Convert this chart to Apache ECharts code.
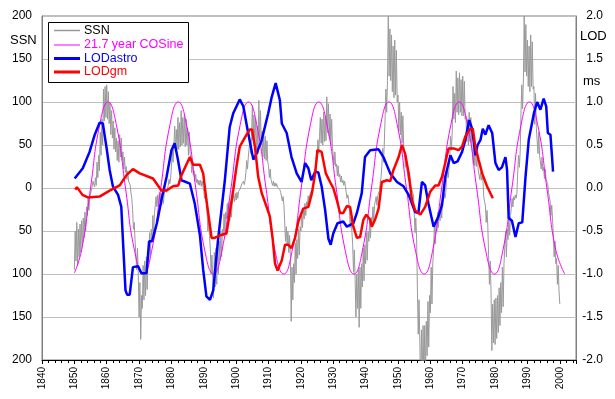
<!DOCTYPE html>
<html>
<head>
<meta charset="utf-8">
<script src="https://cdn.jsdelivr.net/npm/echarts@6/dist/echarts.min.js"></script>
<style>
  * { margin: 0; padding: 0; }
  body { background: #fff; }
</style>
</head>
<body>
<div id="main" style="width: 615px; height: 399px;"></div>
<script>
  // sunspot number, sign flipped every other cycle; four readings per year from 1850.0
  var ssnStart = 1850;
  var ssnStep = 0.25;
  var ssn = [
    -95, -50, -85, -40,   -90, -48, -80, -42,   -75, -38, -68, -35,   -58, -28, -50, -22,   -32, -12, -26, -10,
    -12, -3, 2, 8,        8, 1, 12, 3,          30, 12, 38, 20,       65, 38, 80, 50,       115, 78, 118, 82,
    120, 80, 112, 75,     100, 62, 90, 58,      78, 45, 70, 42,       58, 32, 55, 30,       62, 36, 58, 32,
    42, 22, 36, 18,       25, 10, 20, 8,        10, 3, -6, -12,       -25, -48, -40, -60,   -62, -95, -70, -100,
    -150, -110, -176, -125, -140, -90, -130, -85, -125, -80, -118, -82, -85, -52, -78, -48, -60, -32, -55, -30,
    -28, -10, -22, -8,    -20, -5, -16, -6,     -20, -6, -18, -7,     -7, -1, -5, -1,       3, 10, 5, 12,
    25, 45, 30, 48,       72, 42, 68, 45,       82, 45, 76, 48,       90, 50, 82, 52,       86, 48, 80, 50,
    70, 38, 65, 40,       36, 18, 30, 15,       20, 8, 16, 6,         10, 4, 9, 3,          9, 2, 8, 2,
    -4, -12, -6, -14,     -28, -50, -35, -55,   -70, -100, -78, -105, -128, -75, -115, -70, -112, -65, -100, -62,
    -84, -50, -80, -48,   -56, -30, -52, -28,   -36, -18, -32, -16,   -38, -20, -34, -18,   -18, -8, -16, -6,
    -14, -5, -12, -4,     -4, -1, 2, 5,         3, 8, 4, 9,           18, 32, 22, 36,       36, 56, 40, 60,
    96, 55, 85, 50,       80, 44, 72, 40,       102, 55, 90, 50,      66, 36, 62, 34,       60, 32, 55, 30,
    26, 12, 22, 10,       9, 3, 8, 2,           6, 2, 5, 1,           2, 1, -2, -5,         -6, -15, -10, -20,
    -40, -62, -45, -65,   -50, -75, -55, -80,   -155, -92, -130, -88, -110, -64, -100, -60, -82, -48, -78, -45,
    -50, -28, -46, -25,   -36, -18, -32, -16,   -20, -9, -18, -8,     -9, -3, -7, -2,       10, 22, 14, 26,
    36, 56, 40, 60,       82, 52, 80, 50,       88, 54, 84, 55,       106, 64, 98, 60,      86, 50, 80, 48,
    46, 27, 42, 25,       28, 14, 26, 13,       16, 7, 14, 6,         9, 3, 8, 2,           -5, -12, -8, -14,
    -28, -46, -34, -50,   -66, -98, -72, -105,  -150, -100, -140, -95, -162, -92, -140, -88, -115, -70, -108, -66,
    -88, -52, -84, -50,   -62, -36, -58, -34,   -42, -22, -38, -20,   -22, -10, -20, -9,    -8, -3, 6, 12,
    25, 46, 30, 50,       80, 115, 88, 125,     200, 130, 185, 125,   178, 112, 165, 105,   172, 108, 160, 100,
    108, 66, 100, 62,     88, 52, 84, 50,       42, 24, 38, 22,       20, 8, 18, 7,         3, 1, -5, -8,
    -28, -52, -35, -58,   -120, -170, -130, -180, -240, -165, -225, -160, -230, -160, -215, -155, -195, -132, -185, -125,
    -145, -92, -135, -88, -72, -40, -65, -38,   -50, -28, -46, -26,   -38, -18, -35, -16,   -14, -6, -12, -5,
    10, 20, 12, 22,       38, 60, 44, 64,       118, 80, 110, 76,     136, 88, 128, 85,     134, 88, 126, 84,
    130, 84, 124, 80,     84, 54, 80, 50,       88, 54, 82, 52,       50, 28, 46, 26,       46, 25, 42, 22,
    20, 10, 18, 9,        14, 8, -10, -16,      -20, -40, -26, -44,   -78, -112, -85, -120, -189, -135, -180, -130,
    -182, -128, -175, -125, -168, -116, -160, -110, -145, -92, -138, -88, -88, -50, -80, -48, -60, -34, -55, -32,
    -24, -12, -22, -10,   -14, -8, -12, -6,     20, 38, 24, 42,       86, 120, 92, 128,     200, 135, 190, 130,
    172, 118, 165, 112,   178, 118, 170, 115,   118, 74, 110, 70,     70, 40, 65, 38,       40, 22, 36, 20,
    24, 11, 22, 10,       10, 5, -5, -10,       -15, -32, -20, -36,   -56, -80, -62, -88,   -82, -112, -90, -120,
    -135
  ];

  // 21.7 year cosine, read at peaks, troughs, zero crossings and half-way points
  var cosine = [
    [1850.0, -99], [1852.3, -71], [1855.0, 0], [1857.7, 71], [1860.4, 100], [1863.1, 71], [1865.8, 0], [1868.5, -71],
    [1871.3, -100], [1874.0, -71], [1876.7, 0], [1879.4, 71], [1882.1, 100], [1884.8, 71], [1887.5, 0], [1890.2, -71],
    [1893.0, -100], [1895.7, -71], [1898.4, 0], [1901.1, 71], [1903.8, 100], [1906.5, 71], [1909.2, 0], [1911.9, -71],
    [1914.7, -100], [1917.4, -71], [1920.1, 0], [1922.8, 71], [1925.5, 100], [1928.2, 71], [1930.9, 0], [1933.6, -71],
    [1936.4, -100], [1939.1, -71], [1941.8, 0], [1944.5, 71], [1947.2, 100], [1949.9, 71], [1952.6, 0], [1955.3, -71],
    [1958.1, -100], [1960.8, -71], [1963.5, 0], [1966.2, 71], [1968.9, 100], [1971.6, 71], [1974.3, 0], [1977.0, -71],
    [1979.8, -100], [1982.5, -71], [1985.2, 0], [1987.9, 71], [1990.6, 100], [1993.3, 71], [1996.0, 0], [1998.7, -71],
    [2001.5, -100]
  ];

  // LOD (ms)
  var lodAstro = [
    [1850.1, 0.11], [1852.6, 0.23], [1854.7, 0.42], [1856.3, 0.62], [1857.8, 0.76], [1858.8, 0.75], [1859.9, 0.48],
    [1860.9, 0.21], [1861.9, 0.02], [1863.5, -0.08], [1864.5, -0.22], [1865.0, -0.6], [1865.8, -1.19], [1866.3, -1.24],
    [1867.1, -1.24], [1868.1, -0.92], [1869.7, -0.91], [1870.7, -0.99], [1872.3, -0.99], [1873.1, -0.62], [1874.0, -0.62],
    [1875.5, -0.41], [1876.9, -0.14], [1878.5, 0.13], [1880.0, 0.44], [1881.0, 0.52], [1882.0, 0.33], [1883.1, 0.09],
    [1885.7, 0.05], [1887.2, -0.18], [1888.8, -0.55], [1889.8, -0.95], [1890.8, -1.26], [1891.9, -1.3], [1892.9, -1.19],
    [1894.4, -0.6], [1896.5, 0.09], [1898.0, 0.71], [1899.1, 0.87], [1901.1, 1.03], [1902.2, 0.95], [1903.7, 0.64],
    [1905.3, 0.33], [1906.3, 0.4], [1907.9, 0.56], [1909.9, 0.87], [1911.0, 1.06], [1912.2, 1.22], [1913.5, 1.02],
    [1914.1, 0.75], [1915.6, 0.64], [1916.2, 0.62], [1917.1, 0.36], [1918.7, 0.17], [1920.2, 0.07], [1921.3, 0.29],
    [1922.3, 0.23], [1923.2, 0.09], [1924.4, 0.19], [1925.4, 0.18], [1926.4, 0.02], [1927.5, -0.26], [1928.5, -0.59],
    [1929.2, -0.66], [1930.0, -0.53], [1931.3, -0.41], [1933.1, -0.39], [1934.2, -0.45], [1936.2, -0.41], [1937.3, -0.29],
    [1938.8, -0.06], [1939.8, 0.36], [1941.4, 0.44], [1944.0, 0.45], [1945.5, 0.36], [1947.6, 0.17], [1949.7, 0.07],
    [1951.7, 0.02], [1953.3, -0.08], [1955.3, -0.28], [1956.3, -0.29], [1957.4, 0.07], [1958.4, 0.03], [1959.4, -0.18],
    [1961.0, -0.45], [1962.5, -0.33], [1963.6, -0.2], [1964.6, 0.13], [1966.2, 0.38], [1967.2, 0.29], [1968.4, 0.31],
    [1969.8, 0.42], [1970.8, 0.56], [1972.0, 0.79], [1972.9, 0.69], [1973.9, 0.38], [1974.6, 0.5], [1975.5, 0.56],
    [1976.2, 0.69], [1977.0, 0.62], [1978.0, 0.73], [1979.1, 0.64], [1980.1, 0.29], [1981.1, 0.21], [1982.1, 0.24],
    [1983.2, 0.36], [1983.7, 0.21], [1984.2, -0.35], [1985.2, -0.38], [1986.3, -0.57], [1987.3, -0.41], [1988.4, -0.4],
    [1989.4, 0.13], [1990.4, 0.56], [1992.0, 0.87], [1993.0, 1.0], [1994.0, 0.91], [1995.0, 1.04], [1995.8, 0.95],
    [1996.3, 0.64], [1997.1, 0.62], [1997.6, 0.36], [1997.9, 0.19]
  ];
  var lodGm = [
    [1850.3, -0.02], [1850.8, 0.01], [1852.5, -0.08], [1854.2, -0.11], [1857.8, -0.1], [1860.9, -0.03], [1864.0, 0.03],
    [1866.1, 0.15], [1868.1, 0.22], [1870.2, 0.17], [1874.3, 0.11], [1876.9, -0.03], [1878.5, -0.03], [1880.5, 0.02],
    [1882.1, 0.03], [1883.1, 0.15], [1885.7, 0.36], [1886.7, 0.27], [1888.8, 0.27], [1889.8, 0.17], [1890.8, -0.14],
    [1892.4, -0.58], [1893.3, -0.58], [1895.0, -0.55], [1897.0, -0.53], [1898.0, -0.29], [1899.1, -0.02], [1900.1, 0.25],
    [1901.1, 0.48], [1903.2, 0.62], [1904.2, 0.68], [1904.9, 0.68], [1905.8, 0.48], [1906.8, 0.13], [1907.9, -0.06],
    [1909.4, -0.22], [1910.4, -0.33], [1911.3, -0.6], [1912.0, -0.88], [1912.8, -0.96], [1914.1, -0.84], [1915.1, -0.66],
    [1916.1, -0.66], [1917.1, -0.7], [1918.2, -0.58], [1919.2, -0.39], [1920.7, -0.24], [1922.3, -0.22], [1923.4, -0.06],
    [1924.4, 0.17], [1925.1, 0.44], [1926.4, 0.42], [1927.7, 0.17], [1929.0, 0.07], [1930.0, 0.0], [1931.1, -0.14],
    [1932.1, -0.29], [1933.1, -0.29], [1934.2, -0.21], [1935.2, -0.22], [1936.2, -0.45], [1937.3, -0.58], [1938.3, -0.57],
    [1939.3, -0.37], [1940.2, -0.31], [1941.4, -0.37], [1941.9, -0.45], [1942.9, -0.37], [1944.0, -0.24], [1945.0, 0.07],
    [1946.6, 0.09], [1947.6, 0.08], [1948.6, 0.21], [1950.2, 0.36], [1951.2, 0.5], [1952.2, 0.4], [1953.3, 0.17],
    [1954.3, -0.14], [1955.3, -0.26], [1956.9, -0.31], [1958.4, -0.22], [1960.0, -0.04], [1961.5, 0.03], [1962.5, 0.03],
    [1963.6, 0.13], [1964.6, 0.29], [1965.6, 0.46], [1967.2, 0.46], [1968.7, 0.44], [1969.8, 0.48], [1970.8, 0.6],
    [1972.4, 0.69], [1973.1, 0.69], [1973.9, 0.48], [1974.9, 0.33], [1976.0, 0.17], [1977.5, 0.02], [1979.3, -0.12]
  ];

  var seriesNames = ['SSN', '21.7 year COSine', 'LODastro', 'LODgm'];
  var seriesColors = ['#999999', '#ff00ff', '#0000ff', '#ff0000'];

  var ssnData = ssn.map(function (v, i) { return [ssnStart + i * ssnStep, v]; });
  var font = 'Liberation Sans, Arial, sans-serif';

  // legend drawn by hand (box + line samples + texts)
  var legendRows = [30.5, 45, 58.5, 72];
  var legendWidths = [1.5, 1, 3, 3];
  var legendText = ['#000', '#ff00ff', '#0000ff', '#ff0000'];
  var graphics = [
    { type: 'rect', z: 100, shape: { x: 48.5, y: 22.5, width: 140, height: 60 },
      style: { fill: '#fff', stroke: '#000', lineWidth: 1 } }
  ];
  seriesNames.forEach(function (name, i) {
    graphics.push({ type: 'line', z: 101,
      shape: { x1: 54, y1: legendRows[i], x2: 80, y2: legendRows[i] },
      style: { stroke: seriesColors[i], lineWidth: legendWidths[i] } });
    graphics.push({ type: 'text', z: 101, x: 84, y: legendRows[i],
      style: { text: name, fill: legendText[i], fontSize: 12.5, fontFamily: font, verticalAlign: 'middle' } });
  });
  graphics.push({ type: 'text', x: 10, y: 40, style: { text: 'SSN', fontSize: 13, fontFamily: font, fill: '#000', verticalAlign: 'middle' } });
  graphics.push({ type: 'text', x: 580, y: 36, style: { text: 'LOD', fontSize: 13, fontFamily: font, fill: '#000', verticalAlign: 'middle' } });
  graphics.push({ type: 'text', x: 583, y: 81, style: { text: 'ms', fontSize: 13, fontFamily: font, fill: '#000', verticalAlign: 'middle' } });

  var chart = echarts.init(document.getElementById('main'));
  chart.setOption({
    animation: false,
    backgroundColor: '#fff',
    textStyle: { fontFamily: font },
    grid: {
      left: 42, right: 39, top: 16, bottom: 39,
      show: true, borderColor: '#808080', borderWidth: 1
    },
    graphic: graphics,
    xAxis: {
      type: 'value',
      min: 1840, max: 2005, interval: 10,
      axisLine: { onZero: false, lineStyle: { color: '#000' } },
      axisTick: { length: 4, lineStyle: { color: '#000' } },
      minorTick: { show: true, splitNumber: 5, length: 3, lineStyle: { color: '#000' } },
      splitLine: { show: false },
      axisLabel: {
        rotate: 90, margin: 7, color: '#000', showMaxLabel: false,
        fontSize: 10, fontFamily: 'Liberation Sans Narrow, Arial Narrow, sans-serif',
        formatter: function (v) { return String(v); }
      }
    },
    yAxis: [
      {
        type: 'value', position: 'left',
        min: -200, max: 200, interval: 50,
        axisLine: { show: true, lineStyle: { color: '#808080' } },
        axisTick: { show: false },
        splitLine: { lineStyle: { color: '#c0c0c0' } },
        axisLabel: {
          color: '#000', fontSize: 12, margin: 10,
          formatter: function (v) { return String(Math.abs(v)); }
        }
      },
      {
        type: 'value', position: 'right',
        min: -2, max: 2, interval: 0.5,
        axisLine: { show: true, lineStyle: { color: '#808080' } },
        axisTick: { show: false },
        splitLine: { show: false },
        axisLabel: {
          color: '#000', fontSize: 12, margin: 27, align: 'right',
          formatter: function (v) { return v.toFixed(1); }
        }
      }
    ],
    series: [
      {
        name: seriesNames[0], type: 'line', yAxisIndex: 0,
        data: ssnData, symbol: 'none',
        itemStyle: { color: seriesColors[0] },
        lineStyle: { color: seriesColors[0], width: 1 }
      },
      {
        name: seriesNames[1], type: 'line', yAxisIndex: 0,
        data: cosine, symbol: 'none', smooth: true,
        itemStyle: { color: seriesColors[1] },
        lineStyle: { color: seriesColors[1], width: 1 }
      },
      {
        name: seriesNames[2], type: 'line', yAxisIndex: 1,
        data: lodAstro, symbol: 'none',
        itemStyle: { color: seriesColors[2] },
        lineStyle: { color: seriesColors[2], width: 2.5 }
      },
      {
        name: seriesNames[3], type: 'line', yAxisIndex: 1,
        data: lodGm, symbol: 'none',
        itemStyle: { color: seriesColors[3] },
        lineStyle: { color: seriesColors[3], width: 2.5 }
      }
    ]
  });
</script>
</body>
</html>
